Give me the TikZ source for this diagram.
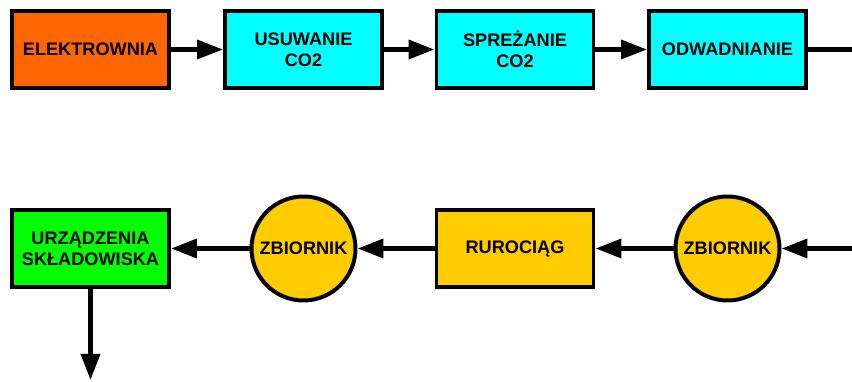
\documentclass[tikz,border=0pt]{standalone}
\usepackage{fontspec}
\setmainfont{Liberation Sans}
\usetikzlibrary{arrows.meta}

\definecolor{orangebox}{HTML}{FF6600}
\definecolor{cyanbox}{HTML}{00FFFF}
\definecolor{greenbox}{HTML}{00FF00}
\definecolor{yellowbox}{HTML}{FFCC00}

\tikzset{
    block/.style={draw, line width=3.4pt, minimum width=4.71cm, minimum height=2.31cm,
        align=center, font=\fontsize{15.5}{18}\selectfont\bfseries},
    tank/.style={draw, circle, line width=3.4pt, minimum size=3.12cm, inner sep=0pt,
        fill=yellowbox, font=\fontsize{15.5}{18}\selectfont\bfseries},
    flow/.style={line width=3.9pt, -{Triangle[length=0.78cm, width=0.56cm]}}
}

\begin{document}
\begin{tikzpicture}
    \useasboundingbox (0, 0) rectangle (25.56, 11.46);

    % Строка 1
    \node[block, fill=orangebox] (elektrownia) at (2.715, 9.975) {ELEKTROWNIA};
    \node[block, fill=cyanbox] (usuwanie) at (9.105, 9.975) {USUWANIE\\CO2};
    \node[block, fill=cyanbox] (sprezanie) at (15.45, 9.975) {SPREŻANIE\\CO2};
    \node[block, fill=cyanbox] (odwadnianie) at (21.825, 9.975) {ODWADNIANIE};
    \coordinate (wyjscie) at (25.56, 9.975);

    % Строка 2
    \node[block, fill=greenbox] (urzadzenia) at (2.715, 4.005) {URZĄDZENIA\\SKŁADOWISKA};
    \node[tank] (zbiornik1) at (9.105, 4.005) {ZBIORNIK};
    \node[block, fill=yellowbox] (rurociag) at (15.45, 4.005) {RUROCIĄG};
    \node[tank] (zbiornik2) at (21.825, 4.005) {ZBIORNIK};
    \coordinate (wejscie) at (25.56, 4.005);
    \coordinate (dol) at (2.715, 0.06);

    % Połączenia
    \draw[flow] (elektrownia) -- (usuwanie);
    \draw[flow] (usuwanie) -- (sprezanie);
    \draw[flow] (sprezanie) -- (odwadnianie);
    \draw[line width=3.9pt] (odwadnianie) -- (wyjscie);
    \draw[flow] (wejscie) -- (zbiornik2);
    \draw[flow] (zbiornik2) -- (rurociag);
    \draw[flow] (rurociag) -- (zbiornik1);
    \draw[flow] (zbiornik1) -- (urzadzenia);
    \draw[flow] (urzadzenia) -- (dol);
\end{tikzpicture}
\end{document}
